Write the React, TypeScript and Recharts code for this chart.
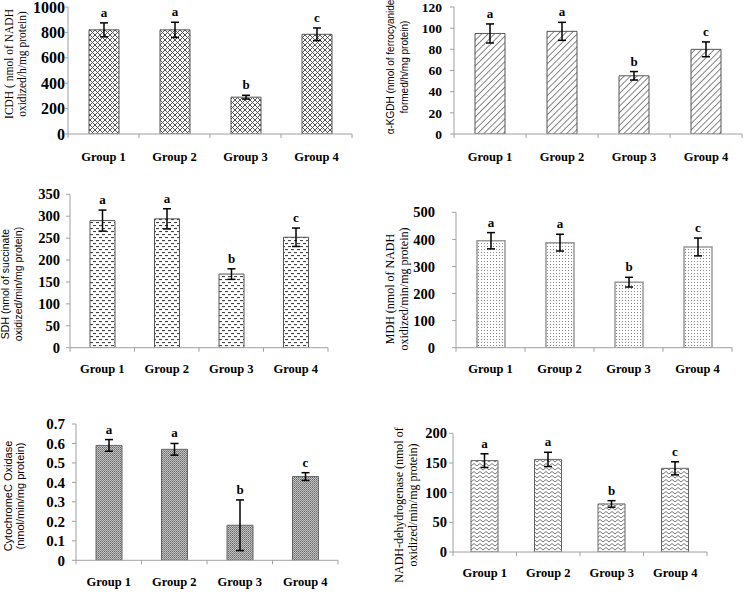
import React from "react";
import { BarChart, Bar, XAxis, YAxis, ErrorBar, LabelList } from "recharts";

const groups = ["Group 1", "Group 2", "Group 3", "Group 4"];
const letters = ["a", "a", "b", "c"];

const icdhMean = [820, 820, 290, 785];
const icdhErr = [55, 60, 15, 50];
const icdhTicks = [0, 200, 400, 600, 800, 1000];
const icdhTitle = ["ICDH ( nmol of NADH", "oxidized/h/mg protein)"];

const kgdhMean = [95, 97, 55, 80];
const kgdhErr = [9, 8.5, 4, 7];
const kgdhTicks = [0, 20, 40, 60, 80, 100, 120];
const kgdhTitle = ["\u03b1-KGDH  (nmol of ferrocyanide", "formed/h/mg protein)"];

const sdhMean = [290, 294, 168, 252];
const sdhErr = [24, 23, 12, 21];
const sdhTicks = [0, 50, 100, 150, 200, 250, 300, 350];
const sdhTitle = ["SDH (nmol of succinate", "oxidized/min/mg protein)"];

const mdhMean = [395, 388, 242, 372];
const mdhErr = [30, 31, 18, 33];
const mdhTicks = [0, 100, 200, 300, 400, 500];
const mdhTitle = ["MDH (nmol of NADH", "oxidized/min/mg protein)"];

const coxMean = [0.59, 0.57, 0.18, 0.43];
const coxErr = [0.03, 0.03, 0.13, 0.02];
const coxTicks = [0, 0.1, 0.2, 0.3, 0.4, 0.5, 0.6, 0.7];
const coxTitle = ["CytochromeC Oxidase", "(nmol/min/mg protein)"];

const nadhMean = [154, 156, 81, 141];
const nadhErr = [11.5, 12, 5.5, 11];
const nadhTicks = [0, 50, 100, 150, 200];
const nadhTitle = ["NADH-dehydrogenase (nmol of", "oxidized/min/mg protein)"];

const SERIF = '"Liberation Serif", "Times New Roman", serif';
const SANS = '"Liberation Sans", Arial, sans-serif';
const AXIS = "#a0a0a0";

type Panel = {
  id: string;
  mean: number[];
  err: number[];
  ticks: number[];
  title: string[];
  titleFont: string;
  titleSize: number;
  titleX: number[];
  titleY: number;
  left: number;
  top: number;
  width: number;
  height: number;
  axisX: number;
  plotRight: number;
  plotTop: number;
  plotBottom: number;
  tickFont: number;
  tickSize: number;
  tickMargin: number;
  barSize: number;
  catOffset: number;
  catFont: number;
  stroke: string;
  strokeWidth: number;
};

const panels: Panel[] = [
  {
    id: "p1", mean: icdhMean, err: icdhErr, ticks: icdhTicks, title: icdhTitle,
    titleFont: SERIF, titleSize: 11.5, titleX: [9, 22], titleY: 64,
    left: 0, top: 0, width: 375, height: 185, axisX: 68, plotRight: 352, plotTop: 7, plotBottom: 134,
    tickFont: 16, tickSize: 3, tickMargin: 0, barSize: 30, catOffset: 23, catFont: 12.5,
    stroke: "#555", strokeWidth: 1,
  },
  {
    id: "p2", mean: kgdhMean, err: kgdhErr, ticks: kgdhTicks, title: kgdhTitle,
    titleFont: SANS, titleSize: 10, titleX: [390, 404], titleY: 67,
    left: 375, top: 0, width: 375, height: 185, axisX: 454, plotRight: 742, plotTop: 7, plotBottom: 134,
    tickFont: 13.5, tickSize: 4, tickMargin: 8, barSize: 30, catOffset: 23, catFont: 12.5,
    stroke: "#555", strokeWidth: 1,
  },
  {
    id: "p3", mean: sdhMean, err: sdhErr, ticks: sdhTicks, title: sdhTitle,
    titleFont: SANS, titleSize: 10.5, titleX: [5, 18], titleY: 284,
    left: 0, top: 185, width: 375, height: 200, axisX: 70, plotRight: 328, plotTop: 194.3, plotBottom: 347.7,
    tickFont: 14.5, tickSize: 4, tickMargin: 6, barSize: 25, catOffset: 21, catFont: 12.5,
    stroke: "#555", strokeWidth: 1,
  },
  {
    id: "p4", mean: mdhMean, err: mdhErr, ticks: mdhTicks, title: mdhTitle,
    titleFont: SERIF, titleSize: 12, titleX: [390, 404], titleY: 289,
    left: 375, top: 185, width: 375, height: 200, axisX: 456, plotRight: 732, plotTop: 212.3, plotBottom: 347.7,
    tickFont: 14.5, tickSize: 4, tickMargin: 17, barSize: 28, catOffset: 21, catFont: 12.5,
    stroke: "#999", strokeWidth: 1.5,
  },
  {
    id: "p5", mean: coxMean, err: coxErr, ticks: coxTicks, title: coxTitle,
    titleFont: SANS, titleSize: 11, titleX: [8, 20], titleY: 496,
    left: 0, top: 395, width: 375, height: 198, axisX: 76, plotRight: 338, plotTop: 424, plotBottom: 560.3,
    tickFont: 15, tickSize: 4, tickMargin: 7, barSize: 26, catOffset: 22, catFont: 12.5,
    stroke: "#666", strokeWidth: 1,
  },
  {
    id: "p6", mean: nadhMean, err: nadhErr, ticks: nadhTicks, title: nadhTitle,
    titleFont: SERIF, titleSize: 12, titleX: [399, 413], titleY: 505,
    left: 375, top: 395, width: 375, height: 198, axisX: 453, plotRight: 707, plotTop: 433.3, plotBottom: 552,
    tickFont: 14.5, tickSize: 4, tickMargin: 2, barSize: 27, catOffset: 21, catFont: 12.5,
    stroke: "#666", strokeWidth: 1,
  },
];

function Patterns({ id }: { id: string }) {
  if (id === "p1") {
    return (
      <pattern id="pat-p1" width="5" height="5" patternUnits="userSpaceOnUse">
        <rect width="5" height="5" fill="#fff" />
        <path d="M0,0 L5,5 M5,0 L0,5" stroke="#555" strokeWidth="1" />
      </pattern>
    );
  }
  if (id === "p2") {
    return (
      <pattern id="pat-p2" width="4.5" height="4.5" patternUnits="userSpaceOnUse" patternTransform="rotate(45)">
        <rect width="4.5" height="4.5" fill="#fff" />
        <line x1="0" y1="0" x2="0" y2="4.5" stroke="#444" strokeWidth="1.3" />
      </pattern>
    );
  }
  if (id === "p3") {
    return (
      <pattern id="pat-p3" width="6" height="6" patternUnits="userSpaceOnUse">
        <rect width="6" height="6" fill="#fff" />
        <rect x="0" y="1" width="3" height="1.1" fill="#444" />
        <rect x="3" y="4" width="3" height="1.1" fill="#444" />
      </pattern>
    );
  }
  if (id === "p4") {
    return (
      <pattern id="pat-p4" width="3" height="3" patternUnits="userSpaceOnUse">
        <rect width="3" height="3" fill="#fff" />
        <rect x="1" y="1" width="1" height="1" fill="#888" />
      </pattern>
    );
  }
  if (id === "p5") {
    return (
      <pattern id="pat-p5" width="2" height="2" patternUnits="userSpaceOnUse">
        <rect width="2" height="2" fill="#c4c4c4" />
        <rect x="0" y="0" width="1" height="1" fill="#666" />
        <rect x="1" y="1" width="1" height="1" fill="#888" />
      </pattern>
    );
  }
  return (
    <pattern id="pat-p6" width="6" height="4" patternUnits="userSpaceOnUse">
      <rect width="6" height="4" fill="#fff" />
      <polyline points="0,3 3,0.5 6,3" fill="none" stroke="#777" strokeWidth="1" />
    </pattern>
  );
}

function YTitle({ cfg }: { cfg: Panel; viewBox?: any }) {
  return (
    <g>
      {cfg.title.map((line, i) => {
        const x = cfg.titleX[i] - cfg.left;
        const y = cfg.titleY - cfg.top;
        return (
          <text
            key={i}
            x={x}
            y={y}
            transform={`rotate(-90, ${x}, ${y})`}
            textAnchor="middle"
            dominantBaseline="central"
            fontFamily={cfg.titleFont}
            fontSize={cfg.titleSize}
            fill="#000"
          >
            {line}
          </text>
        );
      })}
    </g>
  );
}

function makeXTick(cfg: Panel) {
  const half = (cfg.plotRight - cfg.axisX) / 8;
  return (props: any) => {
    const { x, y, payload, index } = props;
    return (
      <g>
        <line x1={x - half} x2={x - half} y1={y} y2={y + 4} stroke={AXIS} />
        {index === 3 && <line x1={x + half} x2={x + half} y1={y} y2={y + 4} stroke={AXIS} />}
        <text
          x={x}
          y={y + cfg.catOffset}
          textAnchor="middle"
          dominantBaseline="central"
          fontFamily={SERIF}
          fontWeight="bold"
          fontSize={cfg.catFont}
          fill="#000"
        >
          {payload.value}
        </text>
      </g>
    );
  };
}

function Chart({ cfg }: { cfg: Panel }) {
  const data = groups.map((g, i) => ({ name: g, mean: cfg.mean[i], err: cfg.err[i], letter: letters[i] }));
  const max = cfg.ticks[cfg.ticks.length - 1];
  const XTick = makeXTick(cfg);
  return (
    <div style={{ position: "absolute", left: cfg.left, top: cfg.top, width: cfg.width, height: cfg.height }}>
      <BarChart
        width={cfg.width}
        height={cfg.height}
        data={data}
        margin={{ top: cfg.plotTop - cfg.top, right: cfg.left + cfg.width - cfg.plotRight, left: 0, bottom: 0 }}
      >
        <defs>
          <Patterns id={cfg.id} />
        </defs>
        <XAxis
          dataKey="name"
          interval={0}
          height={cfg.height - (cfg.plotBottom - cfg.top)}
          axisLine={{ stroke: AXIS }}
          tickLine={false}
          tickSize={0}
          tickMargin={0}
          tick={<XTick />}
        />
        <YAxis
          width={cfg.axisX - cfg.left}
          domain={[0, max]}
          ticks={cfg.ticks}
          interval={0}
          allowDataOverflow
          axisLine={{ stroke: AXIS }}
          tickLine={{ stroke: AXIS }}
          tickSize={cfg.tickSize}
          tickMargin={cfg.tickMargin}
          tick={{ fontFamily: SERIF, fontWeight: "bold", fontSize: cfg.tickFont, fill: "#000" }}
          label={<YTitle cfg={cfg} />}
        />
        <Bar
          dataKey="mean"
          barSize={cfg.barSize}
          fill={`url(#pat-${cfg.id})`}
          stroke={cfg.stroke}
          strokeWidth={cfg.strokeWidth}
          isAnimationActive={false}
        >
          <ErrorBar dataKey="err" width={4} stroke="#000" strokeWidth={1.5} direction="y" />
          <LabelList
            dataKey="letter"
            content={(p: any) => {
              const { x, y, width, height, value, index } = p;
              const d = data[index];
              const ppu = Number(height) / d.mean;
              const top = Number(y) - d.err * ppu;
              return (
                <text
                  x={Number(x) + Number(width) / 2}
                  y={top - 6}
                  textAnchor="middle"
                  fontFamily={SERIF}
                  fontWeight="bold"
                  fontSize={13}
                  fill="#000"
                >
                  {value}
                </text>
              );
            }}
          />
        </Bar>
      </BarChart>
    </div>
  );
}

export default function App() {
  return (
    <div style={{ position: "absolute", left: 0, top: 0, width: 750, height: 593, background: "#fff", overflow: "hidden" }}>
      {panels.map((p) => (
        <Chart key={p.id} cfg={p} />
      ))}
    </div>
  );
}
